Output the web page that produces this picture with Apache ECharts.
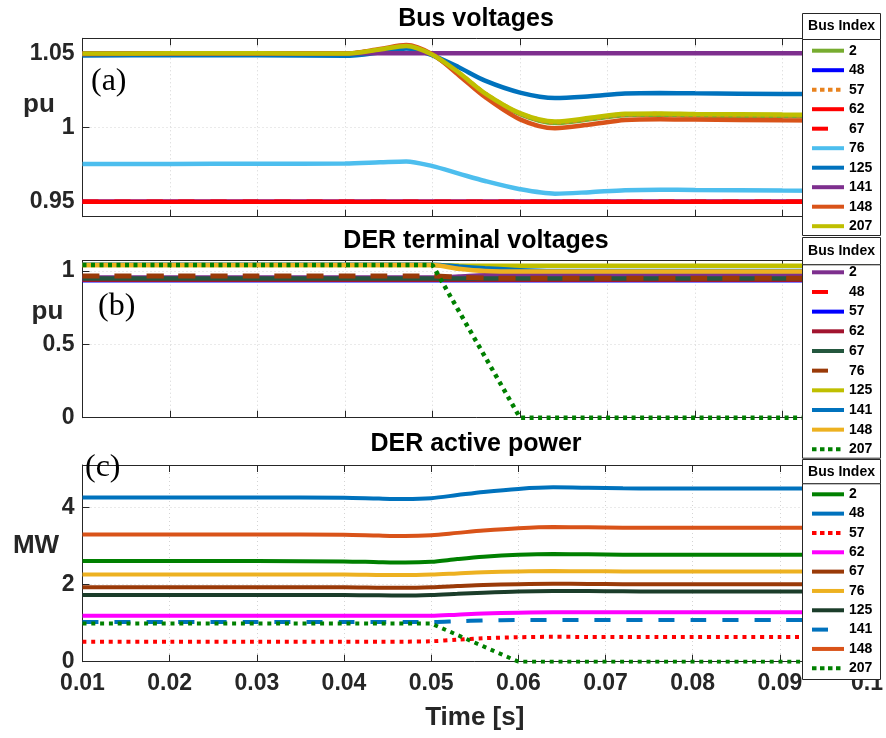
<!DOCTYPE html>
<html><head><meta charset="utf-8">
<script src="https://cdn.jsdelivr.net/npm/echarts@6/dist/echarts.min.js"></script>
<style>html,body{margin:0;padding:0;background:#fff}#c{width:886px;height:738px}</style>
</head><body><div id="c"></div>
<script>
// ---------------- data ----------------
const busIds = ['2','48','57','62','67','76','125','141','148','207'];
const time = [0.01,0.02,0.03,0.04,0.044,0.047,0.05,0.053,0.056,0.06,0.064,0.068,0.072,0.076,0.08,0.09,0.1];

// (a) Bus voltages [pu]
const a2   = [1.0495,1.0497,1.0497,1.0496,1.0522,1.0545,1.0488,1.0365,1.0225,1.0090,1.0030,1.0055,1.0082,1.0085,1.0080,1.0076,1.0075];
const a48  = [0.95,0.95,0.95,0.95,0.95,0.95,0.95,0.95,0.95,0.95,0.95,0.95,0.95,0.95,0.95,0.95,0.95];
const a57  = [1.0495,1.0497,1.0497,1.0496,1.0523,1.0547,1.0489,1.0368,1.0228,1.0094,1.0036,1.0060,1.0088,1.0090,1.0086,1.0082,1.0081];
const a62  = [0.95,0.95,0.95,0.95,0.95,0.95,0.95,0.95,0.95,0.95,0.95,0.95,0.95,0.95,0.95,0.95,0.95];
const a67  = [0.95,0.95,0.95,0.95,0.95,0.95,0.95,0.95,0.95,0.95,0.95,0.95,0.95,0.95,0.95,0.95,0.95];
const a76  = [0.9755,0.9755,0.9756,0.9758,0.9766,0.9772,0.9740,0.9690,0.9640,0.9585,0.9555,0.9565,0.9578,0.9582,0.9580,0.9576,0.9575];
const a125 = [1.0485,1.0487,1.0486,1.0482,1.0505,1.0532,1.0485,1.0405,1.0315,1.0235,1.0198,1.0210,1.0228,1.0232,1.0230,1.0226,1.0225];
const a141 = [1.05,1.05,1.05,1.05,1.05,1.05,1.05,1.05,1.05,1.05,1.05,1.05,1.05,1.05,1.05,1.05,1.05];
const a148 = [1.0495,1.0497,1.0497,1.0497,1.0528,1.0555,1.0492,1.0352,1.0205,1.0055,0.9995,1.0020,1.0050,1.0056,1.0053,1.0048,1.0046];
const a207 = [1.0497,1.0499,1.0499,1.0497,1.0525,1.0549,1.0490,1.0370,1.0230,1.0097,1.0040,1.0065,1.0093,1.0095,1.0091,1.0087,1.0086];

// (b) DER terminal voltages [pu]
const b2   = [0.955,0.955,0.955,0.955,0.955,0.955,0.955,0.962,0.970,0.975,0.975,0.975,0.975,0.975,0.975,0.975,0.975];
const b48  = [0.943,0.943,0.943,0.943,0.943,0.943,0.943,0.943,0.943,0.943,0.943,0.943,0.943,0.943,0.943,0.943,0.943];
const b57  = [0.937,0.937,0.937,0.937,0.937,0.937,0.937,0.937,0.937,0.937,0.937,0.937,0.937,0.937,0.937,0.937,0.937];
const b62  = [0.941,0.941,0.941,0.941,0.941,0.941,0.941,0.941,0.941,0.941,0.941,0.941,0.941,0.941,0.941,0.941,0.941];
const b67  = [0.948,0.948,0.948,0.948,0.948,0.948,0.948,0.948,0.948,0.948,0.948,0.948,0.948,0.948,0.948,0.948,0.948];
const b76  = [0.965,0.965,0.965,0.965,0.965,0.965,0.965,0.958,0.952,0.950,0.950,0.950,0.950,0.950,0.950,0.950,0.950];
const b125 = [1.040,1.040,1.040,1.040,1.040,1.040,1.040,1.037,1.036,1.035,1.035,1.035,1.035,1.035,1.035,1.035,1.035];
const b141 = [1.043,1.043,1.043,1.043,1.043,1.043,1.043,1.030,1.018,1.005,1.000,1.000,1.000,1.000,1.000,1.000,1.000];
const b148 = [1.040,1.040,1.040,1.040,1.040,1.040,1.040,1.015,1.000,0.996,0.996,0.996,0.996,0.996,0.996,0.996,0.996];
const b207 = [1.040,1.040,1.040,1.040,1.040,1.040,1.040,0.728,0.416,0,0,0,0,0,0,0,0];

// (c) DER active power [MW]
const c2   = [2.61,2.61,2.61,2.60,2.58,2.57,2.59,2.66,2.72,2.77,2.79,2.785,2.775,2.77,2.77,2.77,2.77];
const c48  = [4.26,4.26,4.26,4.25,4.23,4.22,4.24,4.32,4.40,4.48,4.52,4.51,4.495,4.49,4.49,4.49,4.49];
const c57  = [0.52,0.52,0.52,0.52,0.52,0.52,0.53,0.57,0.61,0.635,0.645,0.642,0.64,0.64,0.64,0.64,0.64];
const c62  = [1.19,1.19,1.19,1.19,1.19,1.19,1.19,1.22,1.25,1.27,1.28,1.28,1.28,1.28,1.28,1.28,1.28];
const c67  = [1.93,1.93,1.93,1.93,1.92,1.915,1.93,1.96,1.99,2.01,2.02,2.015,2.01,2.01,2.01,2.01,2.01];
const c76  = [2.26,2.26,2.26,2.26,2.25,2.245,2.26,2.29,2.32,2.34,2.35,2.345,2.34,2.34,2.34,2.34,2.34];
const c125 = [1.73,1.73,1.73,1.73,1.72,1.715,1.73,1.76,1.79,1.82,1.83,1.83,1.825,1.82,1.82,1.82,1.82];
const c141 = [1.03,1.03,1.03,1.03,1.03,1.03,1.03,1.05,1.07,1.08,1.08,1.08,1.08,1.08,1.08,1.08,1.08];
const c148 = [3.30,3.30,3.30,3.29,3.27,3.26,3.28,3.34,3.40,3.46,3.49,3.485,3.475,3.47,3.47,3.47,3.47];
const c207 = [0.99,0.99,0.99,0.99,0.99,0.99,0.99,0.693,0.396,0,0,0,0,0,0,0,0];

const yTicksA = [0.95, 1, 1.05];
const yTicksB = [0, 0.5, 1];
const yTicksC = [0, 2, 4];
const panelTitles = ['Bus voltages', 'DER terminal voltages', 'DER active power'];
const panelUnits = ['pu', 'pu', 'MW'];
const panelTags = ['(a)', '(b)', '(c)'];

// ---------------- styles ----------------
const colorsA = ['#77AC30','#0000FF','#E8821E','#FF0000','#FF0000','#4DBEEE','#0072BD','#7E2F8E','#D95319','#BFBF00'];
const typesA  = ['solid','solid',[4,4],'solid',[16,16],'solid','solid','solid','solid','solid'];
const colorsB = ['#7E2F8E','#FF0000','#0000FF','#A2142F','#24573E','#9A3A08','#BFBF00','#0072BD','#EDB120','#008000'];
const typesB  = ['solid',[17,15],'solid','solid','solid',[17,15],'solid','solid','solid',[4,4.5]];
const colorsC = ['#008000','#0072BD','#FF0000','#FF00FF','#9A3A08','#EDB120','#1B3D2A','#0072BD','#D95319','#008000'];
const typesC  = ['solid','solid',[4,4.8],'solid','solid','solid','solid',[16,16],'solid',[4,4.8]];

const panels = [
  {key:'a', vals:[a2,a48,a57,a62,a67,a76,a125,a141,a148,a207], colors:colorsA, types:typesA, width:4.5,
   grid:{top:38.3,height:178.4}, ymin:0.94, ymax:1.06, ticks:yTicksA, smoothSkip:[],
   legendTop:43.7, legendGap:5.5, box:[13,39,235], unitPos:[39,105], tagPos:[91,82]},
  {key:'b', vals:[b2,b48,b57,b62,b67,b76,b125,b141,b148,b207], colors:colorsB, types:typesB, width:4.5,
   grid:{top:260.7,height:157}, ymin:0, ymax:1.07, ticks:yTicksB, smoothSkip:['207'],
   legendTop:265.3, legendGap:5.67, box:[237,264.3,457.7], unitPos:[47.5,311.7], tagPos:[98,306.7]},
  {key:'c', vals:[c2,c48,c57,c62,c67,c76,c125,c141,c148,c207], colors:colorsC, types:typesC, width:4,
   grid:{top:465,height:196.7}, ymin:0, ymax:5.1, ticks:yTicksC, smoothSkip:['207'],
   legendTop:487.3, legendGap:5.33, box:[459,483.3,679], unitPos:[36,546], tagPos:[85,468]}
];
const titleTops = [7, 229, 432];

const AX = '#262626';
const FONT = '"Liberation Sans", Arial, Helvetica, sans-serif';
const fmt = v => String(+(+v).toFixed(4));

const grid = [], xAxis = [], yAxis = [], series = [], legend = [], title = [], graphic = [];

panels.forEach((p, i) => {
  grid.push({left:82.5, width:787.5, top:p.grid.top, height:p.grid.height, containLabel:false});
  const isLast = i === panels.length - 1;
  xAxis.push({
    type:'value', gridIndex:i, min:0.01, max:0.1, interval:0.01, position:'bottom',
    axisLine:{show:true, onZero:false, lineStyle:{color:AX, width:1}},
    axisTick:{show:true, inside:true, length:7, lineStyle:{color:AX}},
    axisLabel:{show:isLast, margin:10, color:AX, fontSize:23, fontWeight:'bold', fontFamily:FONT, formatter:fmt},
    splitLine:{show:true, lineStyle:{color:'#d4d4d4', type:[1,3], width:1}},
    name: isLast ? 'Time [s]' : '', nameLocation:'middle', nameGap:43,
    nameTextStyle:{color:AX, fontSize:26, fontWeight:'bold', fontFamily:FONT}
  });
  xAxis.push({
    type:'value', gridIndex:i, min:0.01, max:0.1, interval:0.01, position:'top',
    axisLine:{show:true, onZero:false, lineStyle:{color:AX, width:1}},
    axisTick:{show:true, inside:true, length:7, lineStyle:{color:AX}},
    axisLabel:{show:false}, splitLine:{show:false}
  });
  yAxis.push({
    type:'value', gridIndex:i, min:p.ymin, max:p.ymax, position:'left',
    axisLine:{show:true, onZero:false, lineStyle:{color:AX, width:1}},
    axisTick:{show:true, inside:true, length:7, lineStyle:{color:AX}, customValues:p.ticks},
    axisLabel:{show:true, margin:8, color:AX, fontSize:23, fontWeight:'bold', fontFamily:FONT, customValues:p.ticks, formatter:fmt},
    splitLine:{show:true, lineStyle:{color:'#d4d4d4', type:[1,3], width:1}}
  });
  const legendData = [];
  busIds.forEach((id, k) => {
    const name = p.key + id;
    const t = p.types[k];
    const smooth = p.smoothSkip.indexOf(id) < 0 ? 0.3 : false;
    series.push({
      type:'line', name, xAxisIndex:2*i, yAxisIndex:i, symbol:'none', smooth,
      data: time.map((tt, j) => [tt, p.vals[k][j]]),
      lineStyle:{color:p.colors[k], width:(p.key==='b' && (id==='76'||id==='48')) ? 5 : p.width, type:t},
      itemStyle:{color:p.colors[k]}, emphasis:{disabled:true}, silent:true, z:2
    });
    let legendType = 'solid';
    if (Array.isArray(t)) legendType = t[0] >= 10 ? [16, 100] : [4.5, 3.5];
    legendData.push({name, lineStyle:{type:legendType, width:4}});
  });
  legend.push({
    orient:'vertical', left:810, top:p.legendTop, padding:0, itemWidth:32, itemHeight:14, itemGap:p.legendGap,
    selectedMode:false, z:20, data:legendData, formatter: n => n.slice(1),
    itemStyle:{opacity:0},
    textStyle:{color:'#000', fontSize:14, fontWeight:'bold', fontFamily:FONT, lineHeight:14, padding:0}
  });
  title.push({text:panelTitles[i], left:476, top:titleTops[i], textAlign:'center', padding:0,
    textStyle:{color:'#000', fontSize:25, fontWeight:'bold', fontFamily:FONT}});
  const [bt, bm, bb] = p.box;
  graphic.push(
    {type:'rect', z:10, shape:{x:802.5, y:bt+0.5, width:78, height:bm-bt}, style:{fill:'#fff', stroke:AX, lineWidth:1}},
    {type:'rect', z:10, shape:{x:802.5, y:bm+0.5, width:78, height:bb-bm}, style:{fill:'#fff', stroke:AX, lineWidth:1}},
    {type:'text', z:11, x:841.5, y:(bt+bm)/2 + 0.5, style:{text:'Bus Index', align:'center', verticalAlign:'middle', fontSize:14, fontWeight:'bold', fontFamily:FONT, fill:'#000'}},
    {type:'text', z:11, x:p.unitPos[0], y:p.unitPos[1], style:{text:panelUnits[i], align:'center', verticalAlign:'middle', fontSize:26, fontWeight:'bold', fontFamily:FONT, fill:AX}},
    {type:'text', z:11, x:p.tagPos[0], y:p.tagPos[1], style:{text:panelTags[i], align:'left', verticalAlign:'middle', fontSize:32, fontFamily:'"Liberation Serif", "Times New Roman", serif', fill:'#000'}}
  );
});

const chart = echarts.init(document.getElementById('c'), null, {renderer:'canvas'});
chart.setOption({
  animation:false, backgroundColor:'#fff',
  title, grid, xAxis, yAxis, series, legend, graphic
});
</script>
</body></html>
